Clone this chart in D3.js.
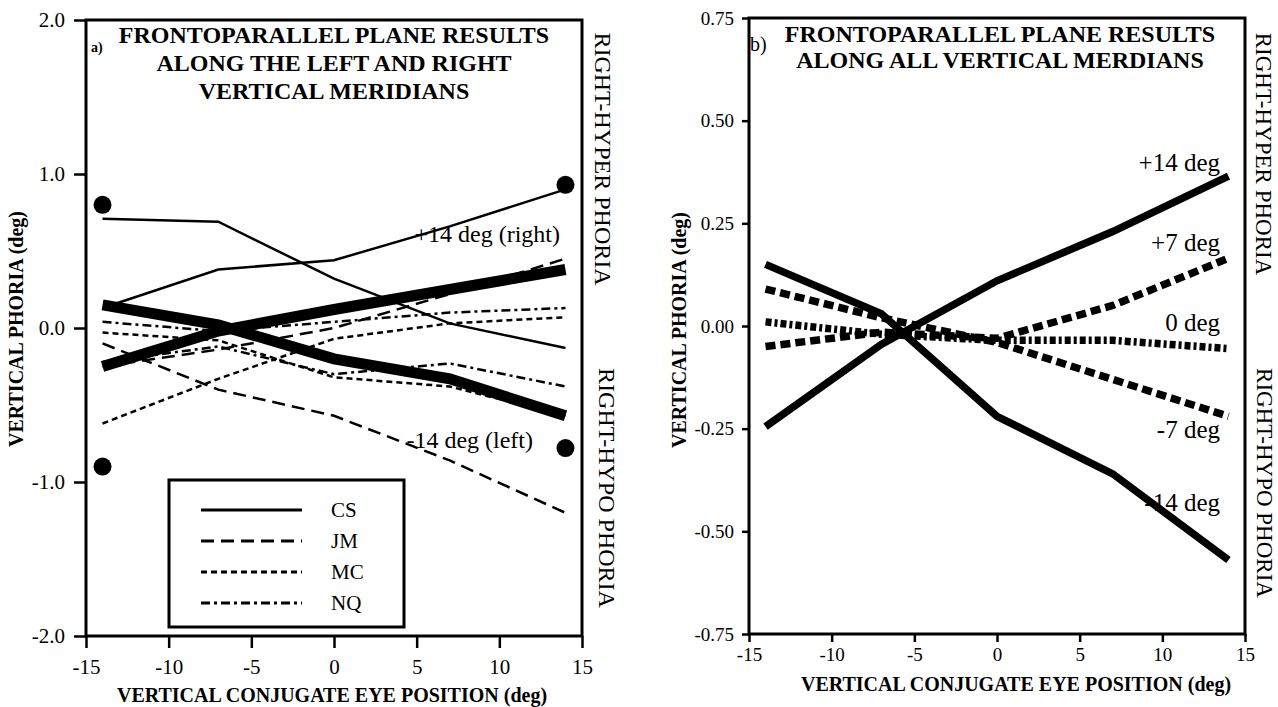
<!DOCTYPE html>
<html>
<head>
<meta charset="utf-8">
<script src="https://cdn.jsdelivr.net/npm/d3@7"></script>
<style>
  html, body { margin: 0; padding: 0; background: #fff; }
  text { font-family: "Liberation Serif", "DejaVu Serif", serif; fill: #000; }
</style>
</head>
<body>
<svg id="chart" width="1278" height="707"></svg>
<script>
// eye positions where phoria was measured
const xPos = [-14, -7, 0, 7, 14];

// panel a: means of the two meridians (thick lines)
const meanRight = [-0.25, -0.02, 0.12, 0.25, 0.38];
const meanLeft = [0.15, 0.02, -0.20, -0.33, -0.57];
// panel a: single subjects, right (+14) and left (-14) meridian
const csRight = [0.13, 0.38, 0.44, 0.66, 0.90];
const csLeft = [0.71, 0.69, 0.32, 0.03, -0.13];
const jmRight = [-0.25, -0.14, 0.00, 0.22, 0.45];
const jmLeft = [-0.10, -0.40, -0.57, -0.86, -1.20];
const mcRight = [-0.62, -0.33, -0.07, 0.03, 0.07];
const mcLeft = [-0.03, -0.08, -0.32, -0.38, -0.57];
const nqRight = [0.04, -0.02, 0.04, 0.10, 0.13];
const nqLeft = [-0.22, -0.12, -0.30, -0.23, -0.38];
// panel a: big dots
const dotX = [-14, 14, -14, 14];
const dotY = [0.80, 0.93, -0.90, -0.78];
const legendNames = ["CS", "JM", "MC", "NQ"];

// panel b: all vertical meridians
const merid14 = [-0.245, -0.045, 0.11, 0.23, 0.365];
const merid7 = [-0.05, -0.015, -0.03, 0.05, 0.165];
const merid0 = [0.01, -0.02, -0.035, -0.035, -0.055];
const meridM7 = [0.09, 0.02, -0.04, -0.13, -0.22];
const meridM14 = [0.15, 0.03, -0.22, -0.36, -0.57];

const xTicks = [-15, -10, -5, 0, 5, 10, 15];
const yTicksA = [-2, -1, 0, 1, 2];
const yTicksB = [-0.75, -0.5, -0.25, 0, 0.25, 0.5, 0.75];

const svg = d3.select("#chart");
svg.append("rect").attr("width", 1278).attr("height", 707).attr("fill", "#fff");

const dashes = {
  solid: null,
  long: "13,7",
  short: "6,4",
  dashdot: "9,4,3,4"
};

function toPts(ys){
  return xPos.map((x, i) => [x, ys[i]]);
}

function frame(g, x, y, cfg){
  const [x0, x1] = x.range();
  const [y0, y1] = y.range();
  // x axis
  const xa = g.append("g").attr("transform", `translate(0,${y0})`)
    .call(d3.axisBottom(x).tickValues(xTicks).tickSize(cfg.xTick).tickPadding(cfg.xPad).tickFormat(d => String(d)));
  // y axis
  const ya = g.append("g").attr("transform", `translate(${x0},0)`)
    .call(d3.axisLeft(y).tickValues(cfg.yTicks).tickSize(cfg.yTick).tickPadding(cfg.yPad).tickFormat(cfg.fmt));
  [xa, ya].forEach(a => {
    a.select(".domain").remove();
    a.selectAll(".tick line").attr("stroke", "#000").attr("stroke-width", 2.5);
    a.selectAll(".tick text").attr("font-size", cfg.tickFont).attr("fill", "#000");
  });
  g.append("rect")
    .attr("x", x0).attr("y", y1)
    .attr("width", x1 - x0).attr("height", y0 - y1)
    .attr("fill", "none").attr("stroke", "#000").attr("stroke-width", 3);
}

function rotLabel(g, txt, cx, cy, angle, size, weight){
  g.append("text")
    .attr("transform", `translate(${cx},${cy}) rotate(${angle})`)
    .attr("text-anchor", "middle")
    .attr("dominant-baseline", "central")
    .attr("font-size", size)
    .attr("font-weight", weight)
    .text(txt);
}

// ---------- panel a ----------
const gA = svg.append("g");
const xA = d3.scaleLinear().domain([-15, 15]).range([86, 582]);
const yA = d3.scaleLinear().domain([-2, 2]).range([636, 20]);
const lineA = d3.line().x(d => xA(d[0])).y(d => yA(d[1]));

frame(gA, xA, yA, {xTick: 12, xPad: 11, yTick: 12, yPad: 9, yTicks: yTicksA, fmt: d => d.toFixed(1), tickFont: 21});

const subjA = [
  {ys: csRight, w: 2.5, dash: dashes.solid},
  {ys: csLeft, w: 2.5, dash: dashes.solid},
  {ys: jmRight, w: 2.5, dash: dashes.long},
  {ys: jmLeft, w: 2.5, dash: dashes.long},
  {ys: mcRight, w: 2.5, dash: dashes.short},
  {ys: mcLeft, w: 2.5, dash: dashes.short},
  {ys: nqRight, w: 2.5, dash: dashes.dashdot},
  {ys: nqLeft, w: 2.5, dash: dashes.dashdot},
  {ys: meanRight, w: 11, dash: null},
  {ys: meanLeft, w: 11, dash: null}
];
gA.selectAll("path.subj").data(subjA).enter().append("path")
  .attr("class", "subj")
  .attr("d", d => lineA(toPts(d.ys)))
  .attr("fill", "none").attr("stroke", "#000")
  .attr("stroke-width", d => d.w)
  .attr("stroke-dasharray", d => d.dash);

gA.selectAll("circle").data(dotX.map((x, i) => [x, dotY[i]])).enter().append("circle")
  .attr("cx", d => xA(d[0])).attr("cy", d => yA(d[1])).attr("r", 9).attr("fill", "#000");

// legend
const legDash = [dashes.solid, dashes.long, dashes.short, dashes.dashdot];
const leg = gA.append("g");
leg.append("rect").attr("x", 169).attr("y", 480).attr("width", 235).attr("height", 147)
  .attr("fill", "#fff").attr("stroke", "#000").attr("stroke-width", 3);
legendNames.forEach((n, i) => {
  const ry = 510 + i * 31;
  leg.append("line").attr("x1", 201).attr("x2", 302).attr("y1", ry).attr("y2", ry)
    .attr("stroke", "#000").attr("stroke-width", 3).attr("stroke-dasharray", legDash[i]);
  leg.append("text").attr("x", 331).attr("y", ry + 7).attr("font-size", 21).text(n);
});

// titles and labels
const titleA = ["FRONTOPARALLEL PLANE RESULTS", "ALONG THE LEFT AND RIGHT", "VERTICAL MERIDIANS"];
titleA.forEach((t, i) => {
  gA.append("text").attr("x", 334).attr("y", 43 + i * 28)
    .attr("text-anchor", "middle").attr("font-size", 24).attr("font-weight", "bold").text(t);
});
gA.append("text").attr("x", 91).attr("y", 52).attr("font-size", 14).attr("font-weight", "bold").text("a)");
gA.append("text").attr("x", 560).attr("y", 242).attr("text-anchor", "end").attr("font-size", 24).text("+14 deg (right)");
gA.append("text").attr("x", 533).attr("y", 448).attr("text-anchor", "end").attr("font-size", 24).text("-14 deg (left)");
rotLabel(gA, "VERTICAL PHORIA  (deg)", 16, 329, -90, 20, "bold");
rotLabel(gA, "RIGHT-HYPER PHORIA", 603, 159, 90, 24, "normal");
rotLabel(gA, "RIGHT-HYPO PHORIA", 607, 488, 90, 24, "normal");
gA.append("text").attr("x", 332).attr("y", 702).attr("text-anchor", "middle")
  .attr("font-size", 20).attr("font-weight", "bold").text("VERTICAL CONJUGATE EYE POSITION  (deg)");

// ---------- panel b ----------
const gB = svg.append("g");
const xB = d3.scaleLinear().domain([-15, 15]).range([749, 1245]);
const yB = d3.scaleLinear().domain([-0.75, 0.75]).range([634, 18]);
const lineB = d3.line().x(d => xB(d[0])).y(d => yB(d[1]));

frame(gB, xB, yB, {xTick: 8, xPad: 6, yTick: 7, yPad: 8, yTicks: yTicksB, fmt: d => d.toFixed(2), tickFont: 19});

const meridB = [
  {ys: merid7, dash: "10,5", lab: "+7 deg", ly: 251},
  {ys: meridM7, dash: "10,5", lab: "-7 deg", ly: 438},
  {ys: merid0, dash: "6,3,3,3", lab: "0 deg", ly: 331},
  {ys: merid14, dash: null, lab: "+14 deg", ly: 171},
  {ys: meridM14, dash: null, lab: "-14 deg", ly: 511}
];
gB.selectAll("path.merid").data(meridB).enter().append("path")
  .attr("class", "merid")
  .attr("d", d => lineB(toPts(d.ys)))
  .attr("fill", "none").attr("stroke", "#000")
  .attr("stroke-width", 7.5)
  .attr("stroke-dasharray", d => d.dash);
gB.selectAll("text.mlab").data(meridB).enter().append("text")
  .attr("class", "mlab")
  .attr("x", 1220).attr("y", d => d.ly).attr("text-anchor", "end").attr("font-size", 25)
  .text(d => d.lab);

const titleB = ["FRONTOPARALLEL PLANE RESULTS", "ALONG ALL VERTICAL MERDIANS"];
titleB.forEach((t, i) => {
  gB.append("text").attr("x", 1000).attr("y", 42 + i * 26)
    .attr("text-anchor", "middle").attr("font-size", 24).attr("font-weight", "bold").text(t);
});
gB.append("text").attr("x", 750).attr("y", 51).attr("font-size", 20).text("b)");
rotLabel(gB, "VERTICAL PHORIA  (deg)", 679, 330, -90, 20, "bold");
rotLabel(gB, "RIGHT-HYPER PHORIA", 1263, 154, 90, 23, "normal");
rotLabel(gB, "RIGHT-HYPO PHORIA", 1264, 483, 90, 23, "normal");
gB.append("text").attr("x", 1016).attr("y", 691).attr("text-anchor", "middle")
  .attr("font-size", 20).attr("font-weight", "bold").text("VERTICAL CONJUGATE EYE POSITION  (deg)");
</script>
</body>
</html>
